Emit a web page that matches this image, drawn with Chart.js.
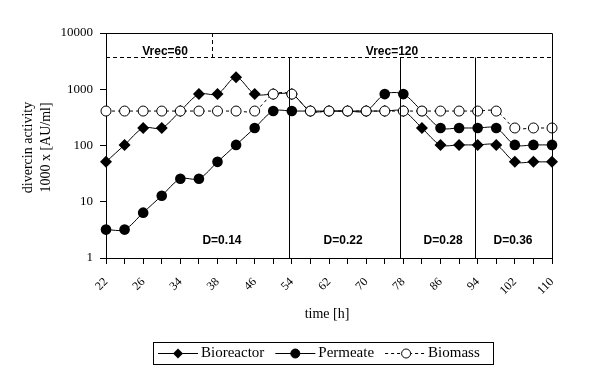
<!DOCTYPE html>
<html>
<head>
<meta charset="utf-8">
<script src="https://cdn.jsdelivr.net/npm/chart.js@4.4.0/dist/chart.umd.min.js"></script>
<style>
body{margin:0;background:#fff;}
#wrap{width:590px;height:389px;}
</style>
</head>
<body>
<div id="wrap"><canvas id="myChart" width="590" height="389"></canvas></div>
<script>
// tiempos de muestreo (solo se rotulan los pares)
const tiempos = ['22','24','26','30','34','36','38','42','46','50','54','58','62','66','70','74','78','82','86','90','94','98','102','106','110'];

const bioreactor = [51.2,102.4,204.8,204.8,409.6,819.2,819.2,1638.4,819.2,819.2,819.2,409.6,409.6,409.6,409.6,409.6,409.6,204.8,102.4,102.4,102.4,102.4,51.2,51.2,51.2];
const permeate   = [3.2,3.2,6.4,12.8,25.6,25.6,51.2,102.4,204.8,409.6,409.6,409.6,409.6,409.6,409.6,819.2,819.2,409.6,204.8,204.8,204.8,204.8,102.4,102.4,102.4];
const biomass    = [409.6,409.6,409.6,409.6,409.6,409.6,409.6,409.6,409.6,819.2,819.2,409.6,409.6,409.6,409.6,409.6,409.6,409.6,409.6,409.6,409.6,409.6,204.8,204.8,204.8];

const yTicks = [1,10,100,1000,10000];

// limites de las etapas (en indices de categoria)
const dBounds = [9.87, 15.8, 19.88];
const dLabels = ['D=0.14','D=0.22','D=0.28','D=0.36'];
const dLabelPos = [6.24, 12.76, 18.14, 21.9];
const vrecLevel = 3700;
const vrecBound = 5.69;
const vrecLabels = ['Vrec=60','Vrec=120'];
const vrecLabelPos = [3.18, 15.39];

const serif = 'Liberation Serif';
const sans = 'Liberation Sans';

function diamond(ctx, x, y, r){
    ctx.beginPath();
    ctx.moveTo(x, y - r); ctx.lineTo(x + r, y); ctx.lineTo(x, y + r); ctx.lineTo(x - r, y);
    ctx.closePath();
    ctx.fillStyle = '#000';
    ctx.fill();
}

function circle(ctx, x, y, r, fill){
    ctx.beginPath();
    ctx.arc(x, y, r, 0, Math.PI * 2);
    ctx.fillStyle = fill;
    ctx.fill();
    ctx.strokeStyle = '#000';
    ctx.lineWidth = 1;
    ctx.stroke();
}

const extras = {
    id: 'extras',
    afterDatasetsDraw(chart){
        const ctx = chart.ctx, a = chart.chartArea;
        const x = chart.scales.x, y = chart.scales.y;
        ctx.save();
        ctx.strokeStyle = '#000';
        ctx.lineWidth = 1;

        // marco arriba y derecha
        ctx.beginPath();
        ctx.moveTo(a.left, a.top + 0.5);
        ctx.lineTo(Math.round(a.right) + 0.5, a.top + 0.5);
        ctx.lineTo(Math.round(a.right) + 0.5, a.bottom);
        ctx.stroke();

        const yv = Math.round(y.getPixelForValue(vrecLevel)) + 0.5;
        const xv = Math.round(x.getPixelForValue(vrecBound)) + 0.5;
        ctx.setLineDash([4, 3]);
        ctx.beginPath();
        ctx.moveTo(a.left, yv); ctx.lineTo(a.right, yv);
        ctx.moveTo(xv, a.top); ctx.lineTo(xv, yv);
        ctx.stroke();
        ctx.setLineDash([]);

        ctx.beginPath();
        dBounds.forEach(b => {
            const xb = Math.round(x.getPixelForValue(b)) + 0.5;
            ctx.moveTo(xb, yv); ctx.lineTo(xb, a.bottom);
        });
        ctx.stroke();

        ctx.fillStyle = '#000';
        ctx.font = 'bold 12px ' + sans;
        ctx.textAlign = 'center';
        ctx.textBaseline = 'middle';
        vrecLabels.forEach((t, i) => ctx.fillText(t, x.getPixelForValue(vrecLabelPos[i]), yv - 6));
        const yd = y.getPixelForValue(2);
        dLabels.forEach((t, i) => ctx.fillText(t, x.getPixelForValue(dLabelPos[i]), yd));
        ctx.restore();
    },
    afterDraw(chart){
        const ctx = chart.ctx, a = chart.chartArea;
        ctx.save();
        ctx.fillStyle = '#000';
        ctx.textBaseline = 'middle';
        ctx.textAlign = 'center';

        // titulo eje y
        ctx.font = '14px ' + serif;
        ctx.save();
        ctx.translate(28, (a.top + a.bottom) / 2 + 2);
        ctx.rotate(-Math.PI / 2);
        ctx.fillText('divercin activity', 0, 0);
        ctx.restore();
        ctx.save();
        ctx.translate(46, (a.top + a.bottom) / 2 + 2);
        ctx.rotate(-Math.PI / 2);
        ctx.fillText('1000 x [AU/ml]', 0, 0);
        ctx.restore();

        // titulo eje x
        ctx.fillText('time [h]', 327, 314);

        // leyenda
        ctx.strokeStyle = '#000';
        ctx.lineWidth = 1;
        ctx.strokeRect(153.5, 342.5, 340, 22);
        ctx.font = '15px ' + serif;
        ctx.textAlign = 'left';
        const items = [
            {label: 'Bioreactor', mark: 'diamond'},
            {label: 'Permeate', mark: 'dot'},
            {label: 'Biomass', mark: 'open'}
        ];
        let px = 158;
        const ly = 353.5;
        items.forEach(it => {
            ctx.setLineDash(it.mark === 'open' ? [3, 3] : []);
            ctx.beginPath();
            ctx.moveTo(px, ly); ctx.lineTo(px + 40, ly);
            ctx.stroke();
            ctx.setLineDash([]);
            if (it.mark === 'diamond') diamond(ctx, px + 20, ly, 5);
            else if (it.mark === 'dot') circle(ctx, px + 20, ly, 4.5, '#000');
            else circle(ctx, px + 21, ly, 4.5, '#fff');
            ctx.fillStyle = '#000';
            ctx.fillText(it.label, px + 43, ly);
            px += 43 + ctx.measureText(it.label).width + 11;
        });
        ctx.restore();
    }
};

let info = {
    labels: tiempos,
    datasets: [{
        label: 'Bioreactor',
        data: bioreactor,
        borderColor: '#000',
        backgroundColor: '#000',
        borderWidth: 1,
        pointStyle: 'rectRot',
        pointRadius: 6,
        pointBackgroundColor: '#000',
        pointBorderColor: '#000',
        pointBorderWidth: 0,
        tension: 0.3,
        clip: 8,
        order: 2
    }, {
        label: 'Permeate',
        data: permeate,
        borderColor: '#000',
        backgroundColor: '#000',
        borderWidth: 1,
        pointStyle: 'circle',
        pointRadius: 5.3,
        pointBackgroundColor: '#000',
        pointBorderColor: '#000',
        pointBorderWidth: 0,
        tension: 0.3,
        clip: 8,
        order: 1
    }, {
        label: 'Biomass',
        data: biomass,
        borderColor: '#000',
        backgroundColor: '#fff',
        borderWidth: 1,
        borderDash: [3, 3],
        pointStyle: 'circle',
        pointRadius: 5,
        pointBackgroundColor: '#fff',
        pointBorderColor: '#000',
        pointBorderWidth: 1,
        tension: 0.3,
        clip: 8,
        order: 0
    }]
};

let config = {
    type: 'line',
    data: info,
    options: {
        responsive: false,
        animation: false,
        layout: { padding: { top: 33, right: 38, left: 0, bottom: 0 } },
        plugins: { legend: { display: false }, tooltip: { enabled: false } },
        scales: {
            x: {
                type: 'category',
                offset: false,
                grid: { drawOnChartArea: false, tickLength: 6, tickColor: '#000', color: '#000' },
                border: { color: '#000', width: 1 },
                ticks: {
                    autoSkip: false,
                    maxRotation: 45,
                    minRotation: 45,
                    color: '#000',
                    padding: 11,
                    font: { family: serif, size: 12 },
                    callback: function(v, i){ return i % 2 === 0 ? this.getLabelForValue(v) : ''; }
                },
                afterFit: s => { s.height = 131; }
            },
            y: {
                type: 'logarithmic',
                min: 1,
                max: 10000,
                grid: { drawOnChartArea: false, tickLength: 6, tickColor: '#000', color: '#000' },
                border: { color: '#000', width: 1 },
                afterBuildTicks: s => { s.ticks = yTicks.map(v => ({ value: v })); },
                ticks: {
                    color: '#000',
                    padding: 7,
                    font: { family: serif, size: 13 },
                    callback: v => String(v)
                },
                afterFit: s => { s.width = 106; }
            }
        }
    },
    plugins: [extras]
};

window.addEventListener('DOMContentLoaded', (event) => {
    new Chart(document.getElementById('myChart'), config);
});
</script>
</body>
</html>
